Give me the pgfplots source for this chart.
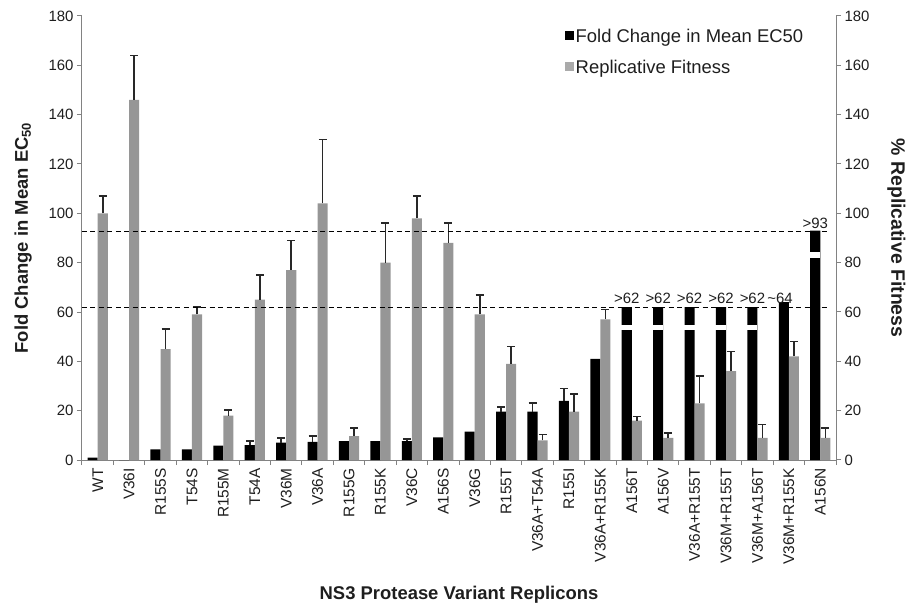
\documentclass[border=0pt]{standalone}
\usepackage{fontspec}
\setmainfont{Liberation Sans}
\usepackage{pgfplots}
\pgfplotsset{compat=1.18}
\usepackage{pgfplotstable}

\definecolor{bargray}{RGB}{150,150,150}
\definecolor{leggray}{RGB}{170,170,170}
\definecolor{axisgray}{RGB}{130,130,130}
\definecolor{errcol}{RGB}{40,40,40}
\definecolor{txtcol}{RGB}{30,30,30}

% x: category index; black: fold change in mean EC50; gray: replicative fitness
\pgfplotstableread{
x black gray gerr
0 1 100 7
1 0 146 18
2 4.3 45 8
3 4.3 59 3
4 5.8 18 2.3
5 6 65 10
6 7 77 12
7 7.3 104 26
8 7.7 9.7 3.3
9 7.7 80 16
10 7.7 98 9
11 9.2 88 8
12 11.5 59 8
13 19.6 39 7
14 19.6 8 2.3
15 24 19.6 7.2
16 41 57 4
17 62 16 1.7
18 62 9 2
19 62 23 11
20 62 36 8
21 62 9 5.4
22 64 42 6
23 93 9 4
}\data

% error bars of the black (fold change) bars; x already shifted to bar centre
\pgfplotstableread{
x y err
4.84 6 1.8
5.84 7 1.8
6.84 7.3 2.4
9.84 7.7 0.9
12.84 19.6 2
13.84 19.6 3.4
14.84 24 5
}\blackerr

\pgfplotsset{
  myerr/.style={draw=none, mark=none, forget plot,
    error bars/.cd, y dir=plus, y explicit,
    error bar style={draw=errcol, line width=1.6bp},
    error mark options={draw=errcol, line width=1.6bp, mark size=4bp, rotate=90}},
}

\begin{document}
\begin{tikzpicture}
\begin{axis}[
  name=main,
  scale only axis,
  width=754bp, height=444bp,
  xmin=-0.5, xmax=23.5,
  ymin=0, ymax=180,
  ytick={0,20,...,180},
  axis y line*=left,
  axis x line*=bottom,
  axis line style={axisgray, line width=1bp, -},
  tick style={axisgray, line width=1bp},
  tick align=outside,
  major tick length=5bp,
  xtick={-0.5,0.5,...,23.5},
  x tick label as interval,
  xticklabels={WT,V36I,R155S,T54S,R155M,T54A,V36M,V36A,R155G,R155K,V36C,A156S,V36G,R155T,V36A+T54A,R155I,V36A+R155K,A156T,A156V,V36A+R155T,V36M+R155T,V36M+A156T,V36M+R155K,A156N},
  xticklabel style={rotate=90, anchor=east, font=\fontsize{15.5}{15.5}\selectfont, text=txtcol, inner sep=3bp},
  yticklabel style={font=\fontsize{15}{15}\selectfont, text=txtcol},
  /pgf/number format/assume math mode=true,
  ylabel={\textbf{Fold Change in Mean EC\textsubscript{50}}},
  ylabel style={font=\fontsize{18.5}{18.5}\selectfont, text=txtcol, yshift=10bp},
  xlabel={\textbf{NS3 Protease Variant Replicons}},
  xlabel style={font=\fontsize{18.5}{18.5}\selectfont, text=txtcol, yshift=-15bp},
  legend style={draw=none, fill=none, at={(0.636,0.98)}, anchor=north west,
    font=\fontsize{18.5}{18.5}\selectfont, text=txtcol, row sep=12bp,
    /tikz/every even column/.append style={column sep=2bp}},
  legend cell align=left,
  clip=false,
]
\addplot[ybar, bar width=0.32, bar shift=-0.16, fill=black, draw=none,
  legend image code/.code={\fill[black] (0bp,-4bp) rectangle (9bp,5bp);}]
  table[x=x, y=black] {\data};
\addlegendentry{Fold Change in Mean EC50}
\addplot[ybar, bar width=0.32, bar shift=0.16, fill=bargray, draw=none,
  legend image code/.code={\fill[leggray] (0bp,-4bp) rectangle (9bp,5bp);}]
  table[x=x, y=gray] {\data};
\addlegendentry{Replicative Fitness}
\addplot[myerr] table[x expr=\thisrow{x}+0.16, y=gray, y error=gerr] {\data};
\addplot[myerr] table[x=x, y=y, y error=err] {\blackerr};
% breaks in the truncated bars
\pgfplotsinvokeforeach{16.84,17.84,18.84,19.84,20.84}{
  \fill[white] (axis cs:#1-0.18,52.7) rectangle (axis cs:#1+0.16,54.8);
  \node[anchor=south, font=\fontsize{15}{15}\selectfont, text=txtcol, inner sep=1bp] at (axis cs:#1,63) {>62};
}
\fill[white] (axis cs:22.66,81.7) rectangle (axis cs:23.0,84.2);
% threshold lines
\addplot[forget plot, black, line width=1.1bp, dash pattern=on 5bp off 3.5bp] coordinates {(-0.5,62) (23.25,62)};
\addplot[forget plot, black, line width=1.1bp, dash pattern=on 5bp off 3.5bp] coordinates {(-0.5,92.7) (23.25,92.7)};
% annotations
\node[anchor=south, font=\fontsize{15}{15}\selectfont, text=txtcol, inner sep=1bp] at (axis cs:21.72,63) {\textasciitilde 64};
\node[anchor=south, font=\fontsize{15}{15}\selectfont, text=txtcol, inner sep=1bp] at (axis cs:22.84,93.2) {>93};
\end{axis}
\begin{axis}[
  scale only axis,
  width=754bp, height=444bp,
  xmin=-0.5, xmax=23.5,
  ymin=0, ymax=180,
  ytick={0,20,...,180},
  axis y line*=right,
  axis x line=none,
  axis line style={axisgray, line width=1bp, -},
  tick style={axisgray, line width=1bp},
  tick align=outside,
  major tick length=5bp,
  yticklabel style={font=\fontsize{15}{15}\selectfont, text=txtcol},
  /pgf/number format/assume math mode=true,
  ylabel={\textbf{\% Replicative Fitness}},
  ylabel style={font=\fontsize{19.5}{19.5}\selectfont, text=txtcol, rotate=180, yshift=11bp},
]
\end{axis}
\pgfresetboundingbox
\path ([xshift=-82bp,yshift=-144bp]main.south west) rectangle ([xshift=73bp,yshift=16bp]main.north east);
\end{tikzpicture}
\end{document}
